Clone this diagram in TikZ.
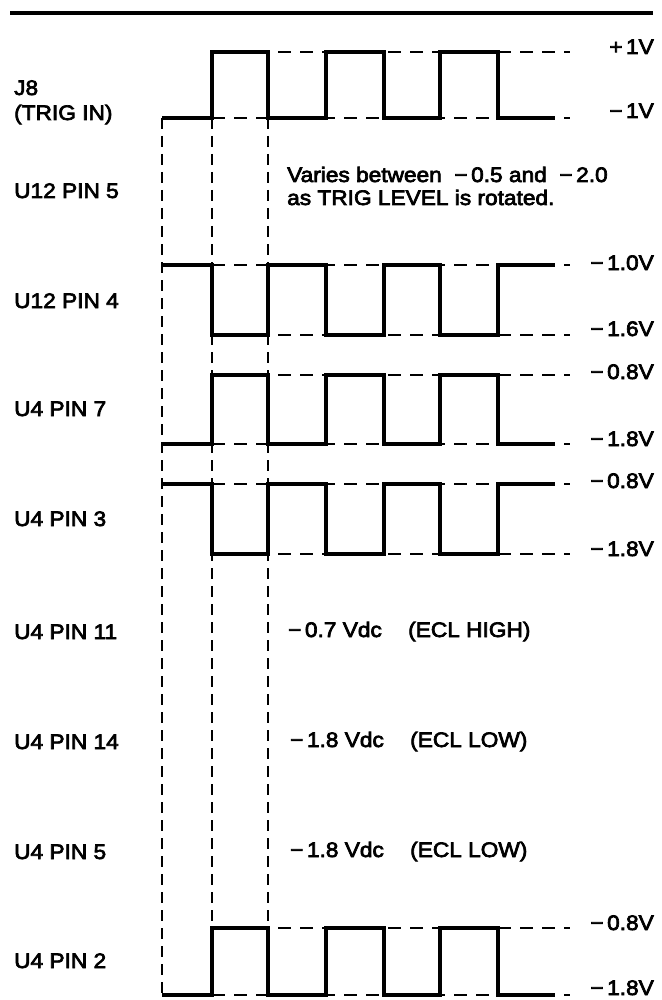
\documentclass[tikz,border=0pt]{standalone}
\usepackage{fontspec}
\setmainfont{Liberation Sans}[FakeStretch=1.08]
\newcommand\heavytext[1]{\special{pdf:literal direct 2 Tr 0.7 w}#1\special{pdf:literal direct 0 Tr}}
\newcommand\wavelow[2]{% start low: #1 = high y, #2 = low y
  \draw[level] (212,#1) -- (570,#1);
  \draw[level] (212,#2) -- (570,#2);
  \draw[wave] (162,#2) -- (212,#2) -- (212,#1) -- (268,#1) -- (268,#2) -- (326,#2) -- (326,#1) -- (384,#1) -- (384,#2) -- (440,#2) -- (440,#1) -- (498,#1) -- (498,#2) -- (555,#2);}
\newcommand\wavehigh[2]{% start high
  \draw[level] (212,#1) -- (570,#1);
  \draw[level] (212,#2) -- (570,#2);
  \draw[wave] (162,#1) -- (212,#1) -- (212,#2) -- (268,#2) -- (268,#1) -- (326,#1) -- (326,#2) -- (384,#2) -- (384,#1) -- (440,#1) -- (440,#2) -- (498,#2) -- (498,#1) -- (555,#1);}
\begin{document}
\begin{tikzpicture}[x=1pt,y=-1pt,
  wave/.style={line width=3.4pt, line join=miter},
  guide/.style={line width=2.2pt, dash pattern=on 11pt off 7pt},
  level/.style={line width=2.2pt, dash pattern=on 13pt off 9pt},
  lbl/.style={anchor=base west, inner sep=0pt, font=\fontsize{21}{23}\selectfont},
  val/.style={anchor=base east, inner sep=0pt, font=\fontsize{21}{23}\selectfont},
  note/.style={anchor=base west, inner sep=0pt, font=\fontsize{21}{23}\selectfont}]
\useasboundingbox (0,0) rectangle (661,1000);
% top rule
\draw[line width=4pt] (10,13) -- (653,13);
% vertical guides
\draw[guide] (162,118) -- (162,995);
\draw[guide] (212,118) -- (212,928);
\draw[guide] (268,118) -- (268,928);
% waveforms
\wavelow{52}{118}
\wavehigh{265}{335}
\wavelow{375}{444}
\wavehigh{484}{554}
\wavelow{928}{995}
% left labels
\node[lbl] (j8) at (14,95) {\heavytext{J8}};
\node[lbl] (trig) at (14,120) {\heavytext{(TRIG IN)}};
\node[lbl] (u12p5) at (14,198) {\heavytext{U12 PIN 5}};
\node[lbl] (u12p4) at (14,308) {\heavytext{U12 PIN 4}};
\node[lbl] (u4p7) at (14,416) {\heavytext{U4 PIN 7}};
\node[lbl] (u4p3) at (14,526) {\heavytext{U4 PIN 3}};
\node[lbl] (u4p11) at (14,639) {\heavytext{U4 PIN 11}};
\node[lbl] (u4p14) at (14,749) {\heavytext{U4 PIN 14}};
\node[lbl] (u4p5) at (14,859) {\heavytext{U4 PIN 5}};
\node[lbl] (u4p2) at (14,968) {\heavytext{U4 PIN 2}};
% right values
\node[val] (v1) at (654,54) {\heavytext{+\,1V}};
\node[val] (v2) at (654,118) {\heavytext{−\,1V}};
\node[val] (v3) at (654,270) {\heavytext{−\,1.0V}};
\node[val] (v4) at (654,336) {\heavytext{−\,1.6V}};
\node[val] (v5) at (654,379) {\heavytext{−\,0.8V}};
\node[val] (v6) at (654,446) {\heavytext{−\,1.8V}};
\node[val] (v7) at (654,488) {\heavytext{−\,0.8V}};
\node[val] (v8) at (654,556) {\heavytext{−\,1.8V}};
\node[val] (v9) at (654,930) {\heavytext{−\,0.8V}};
\node[val] (v10) at (654,995) {\heavytext{−\,1.8V}};
% notes
\node[note] (n1) at (287,182) {\heavytext{Varies between \ −\,0.5 and \ −\,2.0}};
\node[note] (n2) at (287,205) {\heavytext{as TRIG LEVEL is rotated.}};
\node[note] (n3) at (288,637) {\heavytext{−\,0.7 Vdc}};
\node[note] (n4) at (408,637) {\heavytext{(ECL HIGH)}};
\node[note] (n5) at (290,747) {\heavytext{−\,1.8 Vdc}};
\node[note] (n6) at (410,747) {\heavytext{(ECL LOW)}};
\node[note] (n7) at (290,857) {\heavytext{−\,1.8 Vdc}};
\node[note] (n8) at (410,857) {\heavytext{(ECL LOW)}};
\end{tikzpicture}
\end{document}
